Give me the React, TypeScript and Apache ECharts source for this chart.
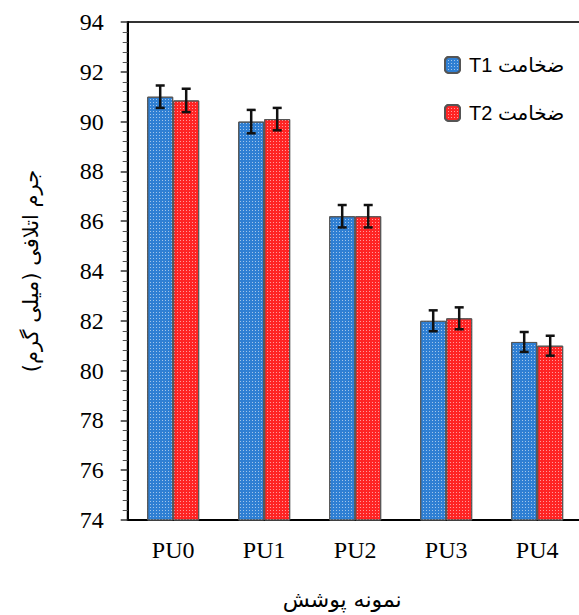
import React, { useEffect, useRef } from "react";
import * as echarts from "echarts";

const categories = ["PU0", "PU1", "PU2", "PU3", "PU4"];
const t1Values = [91.0, 90.0, 86.2, 82.0, 81.15];
const t2Values = [90.85, 90.1, 86.2, 82.1, 81.0];
const t1Errors = [0.45, 0.47, 0.45, 0.42, 0.4];
const t2Errors = [0.47, 0.45, 0.45, 0.44, 0.4];
const seriesNames = ["T1 ضخامت", "T2 ضخامت"];
const yAxisName = "جرم اتلافی (میلی گرم)\u200F";
const xAxisName = "نمونه پوشش";

const BAR_W = 26;

function errorSeries(values: number[], errs: number[], offset: number) {
  return {
    type: "custom",
    silent: true,
    z: 10,
    data: values.map((v, i) => [i, v - errs[i], v + errs[i]]),
    encode: { x: 0, y: [1, 2] },
    renderItem: (params: any, api: any) => {
      const cat = api.value(0);
      const lo = api.coord([cat, api.value(1)]);
      const hi = api.coord([cat, api.value(2)]);
      const x = lo[0] + offset;
      const cap = 4.5;
      const style = { stroke: "#111", lineWidth: 2.5 };
      return {
        type: "group",
        children: [
          { type: "line", shape: { x1: x, y1: lo[1], x2: x, y2: hi[1] }, style },
          { type: "line", shape: { x1: x - cap, y1: lo[1], x2: x + cap, y2: lo[1] }, style },
          { type: "line", shape: { x1: x - cap, y1: hi[1], x2: x + cap, y2: hi[1] }, style },
        ],
      };
    },
  };
}

export default function App() {
  const ref = useRef<HTMLDivElement>(null);
  useEffect(() => {
    if (!ref.current) return;
    const chart = echarts.init(ref.current, null, { renderer: "svg" });
    const serif = "'Liberation Serif', 'Times New Roman', serif";
    const decal = {
      symbol: "rect",
      symbolSize: 1,
      dashArrayX: [1, 2],
      dashArrayY: [1, 2],
      color: "rgba(255,255,255,0.55)",
    };
    chart.setOption({
      animation: false,
      backgroundColor: "#fff",
      grid: {
        left: 127.7,
        top: 22,
        width: 455,
        height: 498,
        show: true,
        borderColor: "#333",
        borderWidth: 2,
        outerBoundsMode: "none",
        containLabel: false,
      },
      legend: {
        orient: "vertical",
        left: 439,
        top: 50,
        itemWidth: 15,
        itemHeight: 16,
        itemGap: 28,
        data: seriesNames,
        textStyle: {
          fontSize: 20,
          color: "#000",
          fontFamily: "'Liberation Sans', 'DejaVu Sans', sans-serif",
          padding: [0, 0, 0, 4],
        },
      },
      xAxis: {
        type: "category",
        data: categories,
        axisLine: { lineStyle: { color: "#000", width: 2 } },
        axisTick: { show: false },
        axisLabel: { fontSize: 24, color: "#000", fontFamily: serif, margin: 18 },
        name: xAxisName,
        nameLocation: "middle",
        nameGap: 68,
        nameTextStyle: {
          fontSize: 22,
          color: "#000",
          fontFamily: "'DejaVu Sans', sans-serif",
          padding: [0, 26, 0, 0],
        },
      },
      yAxis: {
        type: "value",
        min: 74,
        max: 94,
        interval: 2,
        axisLine: { show: true, lineStyle: { color: "#000", width: 2 } },
        axisTick: { show: true, inside: false, length: 7, lineStyle: { color: "#333", width: 1.5 } },
        minorTick: { show: true, splitNumber: 5, length: 5, lineStyle: { color: "#555", width: 1 } },
        splitLine: { show: false },
        axisLabel: { fontSize: 24, color: "#000", fontFamily: serif, margin: 24 },
        name: yAxisName,
        nameLocation: "middle",
        nameGap: 86,
        nameTextStyle: { fontSize: 21, color: "#000", fontFamily: "'DejaVu Sans', sans-serif" },
      },
      series: [
        {
          name: seriesNames[0],
          type: "bar",
          data: t1Values,
          barWidth: BAR_W,
          barGap: "0%",
          itemStyle: { color: "#2f7fd3", borderColor: "#555", borderWidth: 1, decal },
        },
        {
          name: seriesNames[1],
          type: "bar",
          data: t2Values,
          barWidth: BAR_W,
          barGap: "0%",
          itemStyle: { color: "#ff2424", borderColor: "#555", borderWidth: 1, decal },
        },
        errorSeries(t1Values, t1Errors, -BAR_W / 2),
        errorSeries(t2Values, t2Errors, BAR_W / 2),
      ],
    });
    return () => chart.dispose();
  }, []);
  return (
    <div
      ref={ref}
      style={{ position: "absolute", left: 0, top: 0, width: 579, height: 615 }}
    />
  );
}
